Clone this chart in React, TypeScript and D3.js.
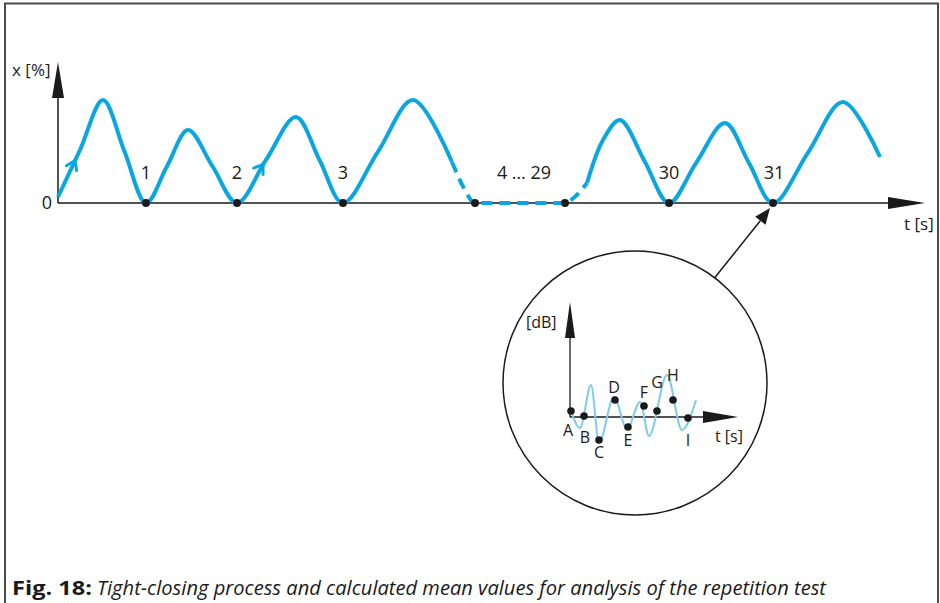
import React from "react";
import * as d3 from "d3";

// ---------- Main chart data (t in arbitrary time units, x in %) ----------
const curveSolidA: [number, number][] = [
  [0, 5.7], [22, 50.5], [45, 98], [66.5, 49], [88, 0], [109, 35], [130, 69.5],
  [154.5, 35], [179, 0], [208, 41], [238, 81.9], [261.5, 41], [285, 0],
  [320, 49], [355, 98], [394, 39],
];
const curveDashed: [number, number][] = [
  [394, 39], [406, 14], [417, 0], [507, 0], [518, 7], [529, 19],
];
const curveSolidB: [number, number][] = [
  [529, 19], [545, 60], [562, 79], [586.5, 40], [611, 0], [638, 38], [667, 76.2],
  [691, 38], [715, 0], [750, 48], [785, 96.2], [822, 43.8],
];
const zeroDots: number[] = [88, 179, 285, 417, 507, 611, 715];
const cycleLabels: { t: number; text: string }[] = [
  { t: 88, text: "1" },
  { t: 179, text: "2" },
  { t: 285, text: "3" },
  { t: 466, text: "4 … 29" },
  { t: 611, text: "30" },
  { t: 716, text: "31" },
];
const directionArrowsT: number[] = [17, 205];

// ---------- Inset (dB) chart data ----------
const insetWave: [number, number][] = [
  [0.7, 7], [10, -11], [21, 32], [29, -25], [44, 20], [57, -12], [70, 15],
  [79, -19], [97, 42], [112, -13], [126, 17],
];
const insetPointNames: string[] = ["A", "B", "C", "D", "E", "F", "G", "H", "I"];
const insetPointT: number[] = [1, 14, 29, 45, 58, 74, 87, 103, 118];
const insetPointV: number[] = [6, 1, -23, 17, -10, 11, 6, 17, -1];
const insetLabelT: number[] = [-2, 15, 29, 44, 58, 74, 87, 103, 118];
const insetLabelV: number[] = [-13, -20, -35, 30, -23, 25, 35, 42, -23];

const BLUE = "#0aa6e2";
const LIGHT_BLUE = "#7fcbf0";
const INK = "#1a1a1a";
const FONT = "'Open Sans', 'DejaVu Sans', sans-serif";

function interp(pts: [number, number][], t: number) {
  for (let i = 0; i < pts.length - 1; i++) {
    const [t0, v0] = pts[i];
    const [t1, v1] = pts[i + 1];
    if (t >= t0 && t <= t1) {
      const f = (t - t0) / (t1 - t0);
      return { v: v0 + f * (v1 - v0), a: [t0, v0, t1, v1] };
    }
  }
  return { v: 0, a: [0, 0, 1, 0] };
}

export default function App() {
  const W = 940, H = 603;
  const x = d3.scaleLinear().domain([0, 870]).range([58, 928]);
  const y = d3.scaleLinear().domain([0, 100]).range([203, 98]);
  const line = d3
    .line<[number, number]>()
    .x((d) => x(d[0]))
    .y((d) => y(d[1]))
    .curve(d3.curveCatmullRom.alpha(0.5));
  const dashLine = d3
    .line<[number, number]>()
    .x((d) => x(d[0]))
    .y((d) => y(d[1]))
    .curve(d3.curveMonotoneX);

  // inset scales
  const ix = d3.scaleLinear().domain([0, 168]).range([570, 738]);
  const iy = d3.scaleLinear().domain([-30, 30]).range([447, 387]);
  const iline = d3
    .line<[number, number]>()
    .x((d) => ix(d[0]))
    .y((d) => iy(d[1]))
    .curve(d3.curveMonotoneX);

  const x0 = x(0), y0 = y(0);

  // direction chevrons
  const chevrons = directionArrowsT.map((t, i) => {
    const r = interp(curveSolidA, t);
    const [t0, v0, t1, v1] = r.a;
    const px = x(t), py = y(r.v);
    const ang = Math.atan2(y(v1) - y(v0), x(t1) - x(t0));
    const L = 10, s = 0.6;
    const p1 = [px - L * Math.cos(ang - s), py - L * Math.sin(ang - s)];
    const p2 = [px - L * Math.cos(ang + s), py - L * Math.sin(ang + s)];
    return (
      <path
        key={i}
        d={`M${p1[0]},${p1[1]}L${px},${py}L${p2[0]},${p2[1]}`}
        fill="none"
        stroke={BLUE}
        strokeWidth={3}
        strokeLinecap="round"
        strokeLinejoin="round"
      />
    );
  });

  // magnifier arrow
  const cx = 635, cy = 383, cr = 132;
  const tipX = x(715) - 3, tipY = y0 + 5;
  const ang = Math.atan2(tipY - 278, tipX - 717);
  const fromX = cx + cr * Math.cos(ang), fromY = cy + cr * Math.sin(ang);
  const hl = 16, hw = 6.5;
  const bx = tipX - hl * Math.cos(ang), by = tipY - hl * Math.sin(ang);
  const nx = -Math.sin(ang), ny = Math.cos(ang);

  const iax0 = ix(0), iay0 = iy(0);

  return (
    <svg
      width={W}
      height={H}
      style={{ position: "absolute", left: 0, top: 0, background: "#fff" }}
      fontFamily={FONT}
    >
      <rect x={0} y={0} width={W} height={H} fill="#fff" />
      {/* frame */}
      <path d={`M5,${H + 5}V3.5H938V${H + 5}`} fill="none" stroke="#4a4a4a" strokeWidth={2} />

      {/* main axes */}
      <line x1={x0} y1={y0} x2={x0} y2={96} stroke={INK} strokeWidth={1.5} />
      <path d={`M${x0},62L${x0 - 6},98L${x0 + 6},98Z`} fill={INK} />
      <line x1={x0} y1={y0} x2={890} y2={y0} stroke={INK} strokeWidth={1.5} />
      <path d={`M925,${y0}L888,${y0 - 6}L888,${y0 + 6}Z`} fill={INK} />
      <text x={12} y={76} fontSize={17} fill={INK}>x [%]</text>
      <text x={47} y={209} fontSize={18} fill={INK} textAnchor="middle">0</text>
      <text x={904} y={230} fontSize={17} fill={INK}>t [s]</text>

      {/* curve */}
      <path d={line(curveSolidA) || ""} fill="none" stroke={BLUE} strokeWidth={4} strokeLinecap="butt" />
      <path d={dashLine(curveDashed) || ""} fill="none" stroke={BLUE} strokeWidth={4} strokeDasharray="11 7" />
      <path d={line(curveSolidB) || ""} fill="none" stroke={BLUE} strokeWidth={4} strokeLinecap="butt" />
      {chevrons}

      {zeroDots.map((t, i) => (
        <circle key={i} cx={x(t)} cy={y0} r={4} fill={INK} />
      ))}
      {cycleLabels.map((l, i) => (
        <text key={i} x={x(l.t)} y={179} fontSize={18} fill={INK} textAnchor="middle">
          {l.text}
        </text>
      ))}

      {/* magnifier arrow */}
      <line x1={fromX} y1={fromY} x2={bx} y2={by} stroke={INK} strokeWidth={1.5} />
      <path
        d={`M${tipX},${tipY}L${bx + nx * hw},${by + ny * hw}L${bx - nx * hw},${by - ny * hw}Z`}
        fill={INK}
      />

      {/* magnifier circle */}
      <circle cx={cx} cy={cy} r={cr} fill="none" stroke={INK} strokeWidth={1.5} />

      {/* inset axes */}
      <line x1={iax0} y1={iay0} x2={iax0} y2={338} stroke={INK} strokeWidth={1.3} />
      <path d={`M${iax0},302L${iax0 - 5},338L${iax0 + 5},338Z`} fill={INK} />
      <line x1={iax0} y1={iay0} x2={705} y2={iay0} stroke={INK} strokeWidth={1.3} />
      <path d={`M738,${iay0}L703,${iay0 - 6}L703,${iay0 + 6}Z`} fill={INK} />
      <text x={526} y={328} fontSize={16} fill={INK}>[dB]</text>
      <text x={715} y={442} fontSize={16} fill={INK}>t [s]</text>

      <path d={iline(insetWave) || ""} fill="none" stroke={LIGHT_BLUE} strokeWidth={2} />
      {insetPointNames.map((n, i) => (
        <g key={n}>
          <circle cx={ix(insetPointT[i])} cy={iy(insetPointV[i])} r={3.8} fill={INK} />
          <text
            x={ix(insetLabelT[i])}
            y={iy(insetLabelV[i]) + 6}
            fontSize={16}
            fill={INK}
            textAnchor="middle"
          >
            {n}
          </text>
        </g>
      ))}

      {/* caption */}
      <text x={12} y={595} fontSize={20} fontWeight="bold" fill={INK} textLength={80} lengthAdjust="spacingAndGlyphs">
        Fig. 18:
      </text>
      <text x={97} y={595} fontSize={20} fontStyle="italic" fill={INK} textLength={729} lengthAdjust="spacingAndGlyphs">
        Tight-closing process and calculated mean values for analysis of the repetition test
      </text>
    </svg>
  );
}
